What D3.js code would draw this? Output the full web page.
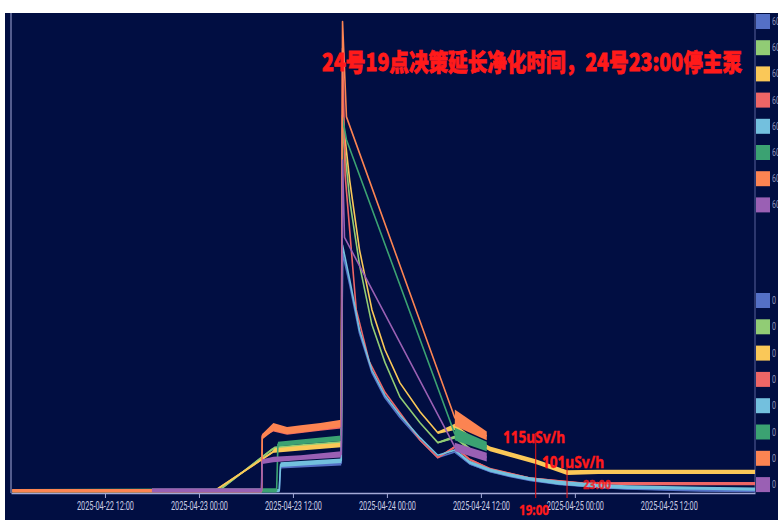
<!DOCTYPE html>
<html>
<head>
<meta charset="utf-8">
<script src="https://cdn.jsdelivr.net/npm/d3@7"></script>
<style>
  html, body { margin: 0; padding: 0; background: #ffffff; }
  svg { display: block; }
</style>
</head>
<body>
<svg id="chart" width="778" height="520"></svg>
<script>
// ---- data (dose rate, uSv/h); each point: [time, low, high] of the readings ----
const seriesNames = ["60", "60", "60", "60", "60", "60", "60", "60"];
const seriesColors = ["#5470c6", "#91cc75", "#fac858", "#ee6666", "#73c0de", "#3ba272", "#fc8452", "#9a60b4"];

const seriesBlue = [
  ["2025-04-22 12:00", 76.5, 79], ["2025-04-23 10:15", 76.5, 79], ["2025-04-23 10:25", 106, 111],
  ["2025-04-23 18:10", 110, 116], ["2025-04-23 18:20", 380, 380], ["2025-04-23 19:15", 340, 340],
  ["2025-04-23 20:30", 278, 278], ["2025-04-23 22:05", 228, 228], ["2025-04-23 23:45", 196, 196],
  ["2025-04-24 01:40", 171, 171], ["2025-04-24 04:15", 142, 142], ["2025-04-24 06:30", 120, 120],
  ["2025-04-24 08:40", 126, 128], ["2025-04-24 10:35", 111, 113], ["2025-04-24 13:10", 101, 104],
  ["2025-04-24 15:40", 95, 98], ["2025-04-24 18:15", 90, 93], ["2025-04-24 22:00", 85, 88],
  ["2025-04-25 03:10", 81, 84], ["2025-04-25 06:40", 79, 82], ["2025-04-25 16:00", 76.5, 80.5],
  ["2025-04-25 23:00", 76, 80]
];
const seriesLightGreen = [
  ["2025-04-22 00:10", 76.5, 79], ["2025-04-23 02:30", 76.5, 79], ["2025-04-23 09:20", 129, 132],
  ["2025-04-23 09:40", 128, 134], ["2025-04-23 13:00", 131, 137], ["2025-04-23 18:10", 135, 141],
  ["2025-04-23 18:20", 540, 540], ["2025-04-23 19:15", 447, 447], ["2025-04-23 20:30", 365, 365],
  ["2025-04-23 22:05", 289, 289], ["2025-04-23 23:45", 241, 241], ["2025-04-24 01:40", 197, 197],
  ["2025-04-24 04:15", 164, 164], ["2025-04-24 06:30", 138, 140], ["2025-04-24 08:40", 144, 148],
  ["2025-04-24 11:35", 121, 125]
];
const seriesYellow = [
  ["2025-04-22 00:10", 76.5, 79], ["2025-04-23 02:00", 76.5, 79], ["2025-04-23 09:30", 126, 129],
  ["2025-04-23 09:40", 126, 132], ["2025-04-23 13:00", 129, 135], ["2025-04-23 18:10", 133, 139],
  ["2025-04-23 18:20", 555, 555], ["2025-04-23 19:15", 472, 472], ["2025-04-23 20:30", 384, 384],
  ["2025-04-23 22:05", 308, 308], ["2025-04-23 23:45", 257, 257], ["2025-04-24 01:40", 215, 215],
  ["2025-04-24 04:15", 178, 178], ["2025-04-24 06:30", 150, 153], ["2025-04-24 08:40", 155, 163],
  ["2025-04-24 10:35", 142, 148], ["2025-04-24 13:10", 128, 134], ["2025-04-24 15:40", 121, 127],
  ["2025-04-24 19:00", 112, 118], ["2025-04-24 23:00", 98, 104], ["2025-04-25 03:00", 99, 104.5],
  ["2025-04-25 23:00", 99, 104.5]
];
const seriesRed = [
  ["2025-04-22 00:10", 75.5, 80], ["2025-04-23 08:00", 75.5, 80], ["2025-04-23 08:05", 146, 150],
  ["2025-04-23 09:30", 153, 160], ["2025-04-23 11:15", 149, 155], ["2025-04-23 15:30", 154, 160],
  ["2025-04-23 18:10", 157, 163], ["2025-04-23 18:20", 640, 640], ["2025-04-23 18:40", 479, 479],
  ["2025-04-23 20:05", 308, 308], ["2025-04-23 21:45", 242, 242], ["2025-04-23 23:45", 203, 203],
  ["2025-04-24 01:40", 177, 177], ["2025-04-24 04:15", 142, 142], ["2025-04-24 06:30", 119, 121],
  ["2025-04-24 08:40", 132, 135], ["2025-04-24 10:35", 116, 119], ["2025-04-24 13:10", 104, 107],
  ["2025-04-24 18:15", 93, 95], ["2025-04-25 01:00", 87, 88.5], ["2025-04-25 06:40", 85, 89],
  ["2025-04-25 23:00", 85, 89]
];
const seriesLightBlue = [
  ["2025-04-22 12:00", 76, 80], ["2025-04-23 10:15", 76, 80], ["2025-04-23 10:25", 108, 114],
  ["2025-04-23 18:10", 113, 119], ["2025-04-23 18:20", 390, 390], ["2025-04-23 19:15", 346, 346],
  ["2025-04-23 20:30", 282, 282], ["2025-04-23 22:05", 231, 231], ["2025-04-23 23:45", 199, 199],
  ["2025-04-24 01:40", 174, 174], ["2025-04-24 04:15", 145, 145], ["2025-04-24 06:30", 123, 123],
  ["2025-04-24 08:40", 128, 131], ["2025-04-24 10:35", 112, 116], ["2025-04-24 13:10", 102, 106],
  ["2025-04-24 15:40", 96, 100], ["2025-04-24 18:15", 91, 95], ["2025-04-24 22:00", 85.5, 90.5],
  ["2025-04-25 03:10", 81.5, 86.5], ["2025-04-25 06:40", 80, 85], ["2025-04-25 16:00", 79, 83],
  ["2025-04-25 23:00", 78, 82]
];
const seriesDarkGreen = [
  ["2025-04-22 00:10", 75.5, 80], ["2025-04-23 09:55", 75.5, 81], ["2025-04-23 10:05", 134, 140],
  ["2025-04-23 13:00", 137, 143], ["2025-04-23 18:10", 141, 148], ["2025-04-23 18:20", 552, 552],
  ["2025-04-23 18:50", 524, 524], ["2025-04-24 08:40", 142, 158], ["2025-04-24 12:45", 128, 140]
];
const seriesOrange = [
  ["2025-04-22 00:10", 75.5, 80], ["2025-04-23 08:00", 75.5, 80], ["2025-04-23 08:05", 143, 150],
  ["2025-04-23 09:30", 154, 164], ["2025-04-23 11:15", 150, 159], ["2025-04-23 13:00", 152, 161],
  ["2025-04-23 15:30", 155, 164], ["2025-04-23 18:10", 159, 168], ["2025-04-23 18:20", 674, 674],
  ["2025-04-23 18:50", 553, 553], ["2025-04-24 08:40", 160, 181], ["2025-04-24 12:45", 142, 153]
];
const seriesPurple = [
  ["2025-04-22 18:00", 75.5, 81], ["2025-04-23 08:00", 75.5, 81], ["2025-04-23 08:05", 112, 118],
  ["2025-04-23 09:30", 114, 121], ["2025-04-23 13:00", 117, 123], ["2025-04-23 18:10", 120, 128],
  ["2025-04-23 18:20", 498, 498], ["2025-04-23 18:35", 400, 400], ["2025-04-24 08:40", 128, 139],
  ["2025-04-24 12:45", 115, 126]
];

const timeDomain = ["2025-04-22 00:00", "2025-04-25 23:00"];
const valueDomain = [75, 685];
const tickTimes = ["2025-04-22 12:00", "2025-04-23 00:00", "2025-04-23 12:00", "2025-04-24 00:00",
                   "2025-04-24 12:00", "2025-04-25 00:00", "2025-04-25 12:00"];

const titleText = "24号19点决策延长净化时间，24号23:00停主泵";
// annotated moments on 24 April
const markTimes = ["2025-04-24 19:00", "2025-04-24 23:00"];
const markLabels = ["115uSv/h", "101uSv/h"];
const markTimeLabels = ["19:00", "23:00"];

// ---- drawing ----
const parse = d3.timeParse("%Y-%m-%d %H:%M");
const svg = d3.select("#chart");

const plot = { left: 11, right: 755, top: 13, bottom: 493 };
const x = d3.scaleTime().domain(timeDomain.map(parse)).range([plot.left, plot.right]);
const y = d3.scaleLinear().domain(valueDomain).range([plot.bottom, plot.top]);

// panel background
svg.append("rect").attr("x", 5).attr("y", 13).attr("width", 773).attr("height", 507).attr("fill", "#010e42");

svg.append("defs").append("clipPath").attr("id", "plotClip")
  .append("rect").attr("x", plot.left).attr("y", plot.top)
  .attr("width", plot.right - plot.left).attr("height", plot.bottom - plot.top + 1);

// axis lines
svg.append("line").attr("x1", plot.left).attr("x2", plot.left).attr("y1", plot.top).attr("y2", plot.bottom)
  .attr("stroke", "#6f77a8").attr("stroke-width", 1.5);
svg.append("line").attr("x1", plot.right).attr("x2", plot.right).attr("y1", plot.top).attr("y2", plot.bottom)
  .attr("stroke", "#59619a").attr("stroke-width", 1);

const xAxis = d3.axisBottom(x)
  .tickValues(tickTimes.map(parse))
  .tickFormat(d3.timeFormat("%Y-%m-%d %H:%M"))
  .tickSize(5).tickSizeOuter(0);
const gx = svg.append("g").attr("transform", `translate(0,${plot.bottom})`).call(xAxis);
gx.select(".domain").attr("stroke", "#a3a9d6").attr("stroke-width", 1.5);
gx.selectAll(".tick line").attr("stroke", "#a3a9d6");
gx.selectAll(".tick text")
  .attr("fill", "#c9cce4").attr("font-family", "Roboto, 'Noto Sans', sans-serif")
  .attr("font-size", 13).attr("y", 8)
  .attr("textLength", 57).attr("lengthAdjust", "spacingAndGlyphs");

// series: reading envelope where the readings spread, plus the trace through it
const allSeries = [seriesBlue, seriesLightGreen, seriesYellow, seriesRed, seriesLightBlue, seriesDarkGreen, seriesOrange, seriesPurple];
const gSeries = svg.append("g").attr("clip-path", "url(#plotClip)");
const area = d3.area()
  .x(d => x(parse(d[0]))).y0(d => y(d[1])).y1(d => y(d[2]));
const line = d3.line()
  .x(d => x(parse(d[0]))).y(d => y((d[1] + d[2]) / 2));

function bandRuns(s) {
  const runs = [];
  let cur = null;
  for (let i = 0; i < s.length - 1; i++) {
    const ok = s[i][2] > s[i][1] && s[i + 1][2] > s[i + 1][1];
    if (ok) {
      if (!cur) { cur = [s[i]]; runs.push(cur); }
      cur.push(s[i + 1]);
    } else cur = null;
  }
  return runs;
}

allSeries.forEach((s, i) => {
  const g = gSeries.append("g");
  bandRuns(s).forEach(run => {
    g.append("path").attr("d", area(run)).attr("fill", seriesColors[i]).attr("stroke", "none");
  });
  g.append("path").attr("d", line(s)).attr("fill", "none")
    .attr("stroke", seriesColors[i]).attr("stroke-width", 1.6).attr("stroke-linejoin", "round");
});

// annotation lines and labels
const red = "#ff1a1a";
const markLineTops = [433, 460];
markTimes.forEach((t, i) => {
  const xm = x(parse(t));
  svg.append("line").attr("x1", xm).attr("x2", xm).attr("y1", markLineTops[i]).attr("y2", 498)
    .attr("stroke", "#e81515").attr("stroke-width", 1);
});
const annoFont = "'Noto Sans', 'Liberation Sans', sans-serif";
function redLabel(txt, lx, ly, size, len) {
  return svg.append("text").attr("x", lx).attr("y", ly).text(txt)
    .attr("fill", red).attr("stroke", red).attr("stroke-width", 0.4)
    .attr("font-weight", "bold").attr("font-family", annoFont).attr("font-size", size)
    .attr("textLength", len).attr("lengthAdjust", "spacingAndGlyphs");
}
redLabel(markLabels[0], 503, 443, 16, 62);
redLabel(markLabels[1], 542, 468, 16, 62);
redLabel(markTimeLabels[0], 519, 515, 15, 30);
redLabel(markTimeLabels[1], 583, 489, 13, 28).attr("opacity", 0.85);

// title
svg.append("text").attr("x", 322).attr("y", 71).text(titleText)
  .attr("fill", red).attr("stroke", red).attr("stroke-width", 0.8).attr("font-weight", 900)
  .attr("font-family", "'Noto Sans CJK SC', sans-serif").attr("font-size", 24)
  .attr("textLength", 420).attr("lengthAdjust", "spacingAndGlyphs");

// legends (two stacked groups at the right edge)
const legendGroups = [
  { top: 14, step: 26.2, labels: seriesNames, len: 8 },
  { top: 293, step: 26.3, labels: seriesNames.map(() => "0"), len: 4 }
];
legendGroups.forEach(grp => {
  seriesColors.forEach((c, i) => {
    const ly = grp.top + i * grp.step;
    svg.append("rect").attr("x", 756).attr("y", ly).attr("width", 14).attr("height", 15).attr("fill", c);
    svg.append("text").attr("x", 772).attr("y", ly + 11).text(grp.labels[i])
      .attr("fill", "#8f94b8").attr("font-family", "Roboto, sans-serif").attr("font-size", 10)
      .attr("textLength", grp.len).attr("lengthAdjust", "spacingAndGlyphs");
  });
});
</script>
</body>
</html>
